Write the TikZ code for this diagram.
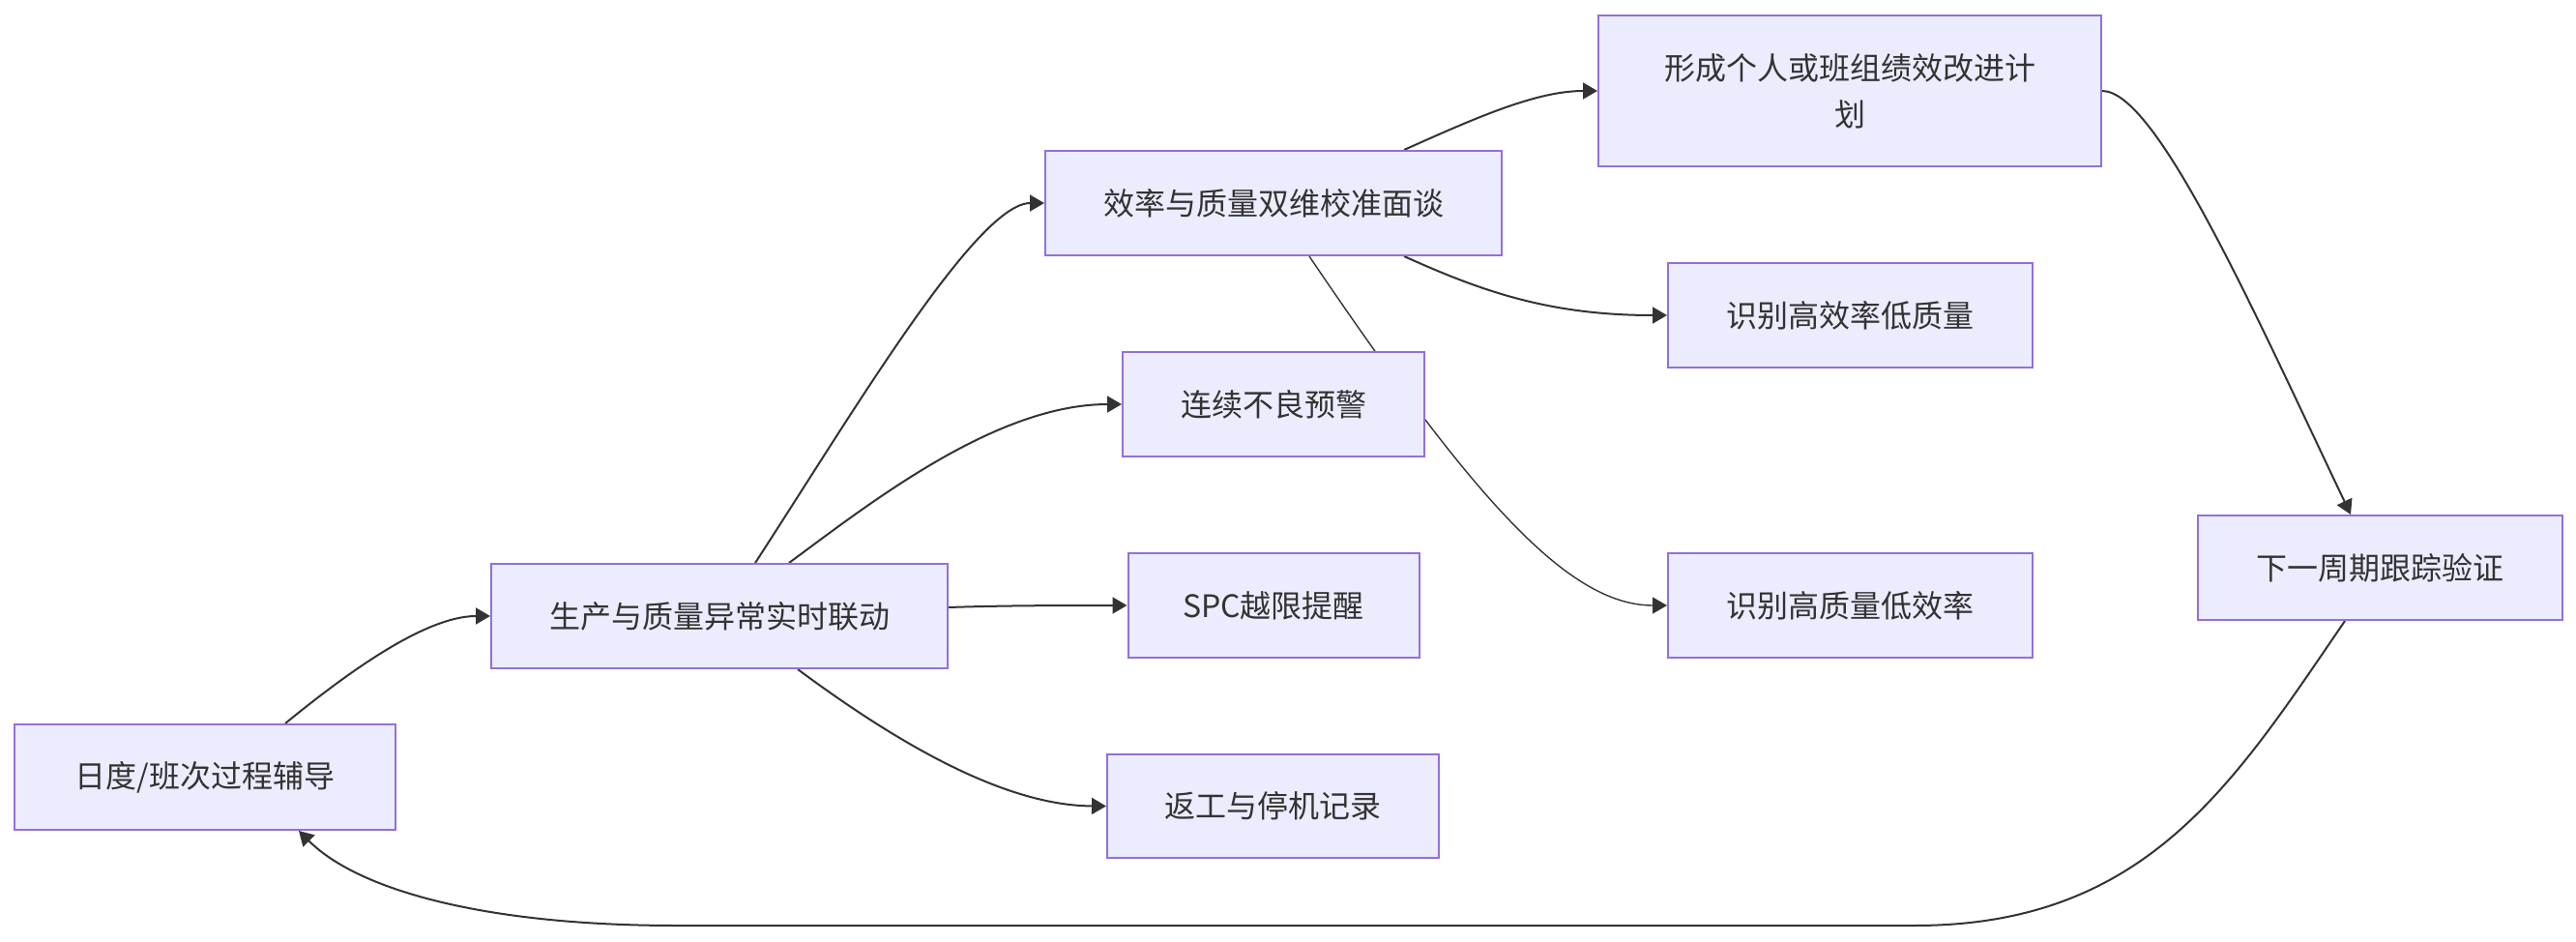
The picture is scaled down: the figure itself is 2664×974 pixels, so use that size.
\documentclass[tikz,border=0pt]{standalone}
\usepackage{fontspec}
\setmainfont{Noto Sans CJK SC}
\usetikzlibrary{arrows.meta}
\pgfdeclarelayer{bg}
\pgfsetlayers{bg,main}
\definecolor{boxfill}{HTML}{ECECFF}
\definecolor{boxline}{HTML}{9370DB}
\definecolor{ink}{HTML}{333333}
\tikzset{
  box/.style={draw=boxline, fill=boxfill, line width=2pt, text=ink, inner sep=0pt,
    font=\fontsize{32}{48}\selectfont, align=center},
  link/.style={draw=ink, line width=2pt, -{Triangle[length=15pt,width=17pt]}},
}

\begin{document}
\begin{tikzpicture}[x=1pt,y=-1pt]
\useasboundingbox (0,0) rectangle (2664,974);
\node[box, minimum width=394pt, minimum height=109pt] (rd) at (212,803.5) {日度/班次过程辅导};
\node[box, minimum width=472pt, minimum height=108pt] (sc) at (744,637) {生产与质量异常实时联动};
\node[box, minimum width=472pt, minimum height=108pt] (mt) at (1317,210) {效率与质量双维校准面谈};
\node[box, minimum width=520pt, minimum height=156pt] (jh) at (1913,94) {形成个人或班组绩效改进计\\划};
\node[box, minimum width=377pt, minimum height=108pt] (gx) at (1913.5,326) {识别高效率低质量};
\node[box, minimum width=312pt, minimum height=108pt] (lx) at (1317,418) {连续不良预警};
\node[box, minimum width=301pt, minimum height=108pt] (spc) at (1317,626) {SPC越限提醒};
\node[box, minimum width=377pt, minimum height=108pt] (gz) at (1913.5,626) {识别高质量低效率};
\node[box, minimum width=343pt, minimum height=107pt] (fg) at (1316.5,833.5) {返工与停机记录};
\node[box, minimum width=377pt, minimum height=108pt] (xz) at (2461,587) {下一周期跟踪验证};

\begin{pgfonlayer}{bg}
\draw[link] ([xshift=83pt]rd.north) .. controls (360,695) and (440,637) .. (sc.west);
\draw[link] ([xshift=37pt]sc.north) .. controls (880,430) and (1010,210) .. (mt.west);
\draw[link] ([xshift=72pt]sc.north) .. controls (900,520) and (1030,418) .. (lx.west);
\draw[link] ([yshift=9pt]sc.east) .. controls (1040,626) and (1100,626) .. (spc.west);
\draw[link] ([xshift=81pt]sc.south) .. controls (930,770) and (1040,833) .. (fg.west);
\draw[link] ([xshift=135pt]mt.north) .. controls (1530,120) and (1590,94) .. (jh.west);
\draw[link] ([xshift=135pt]mt.south) .. controls (1530,300) and (1600,326) .. (gx.west);
\draw[link, line width=1.4pt] ([xshift=37pt]mt.south) .. controls (1520,510) and (1620,626) .. (gz.west);
\draw[link] (jh.east) .. controls (2230,94) and (2330,320) .. ([xshift=-30pt]xz.north);
\draw[link] ([xshift=-36pt]xz.south) .. controls (2310,810) and (2220,957) .. (1980,957)
  -- (700,957) .. controls (500,957) and (370,920) .. ([xshift=97pt]rd.south);
\end{pgfonlayer}
\end{tikzpicture}
\end{document}
